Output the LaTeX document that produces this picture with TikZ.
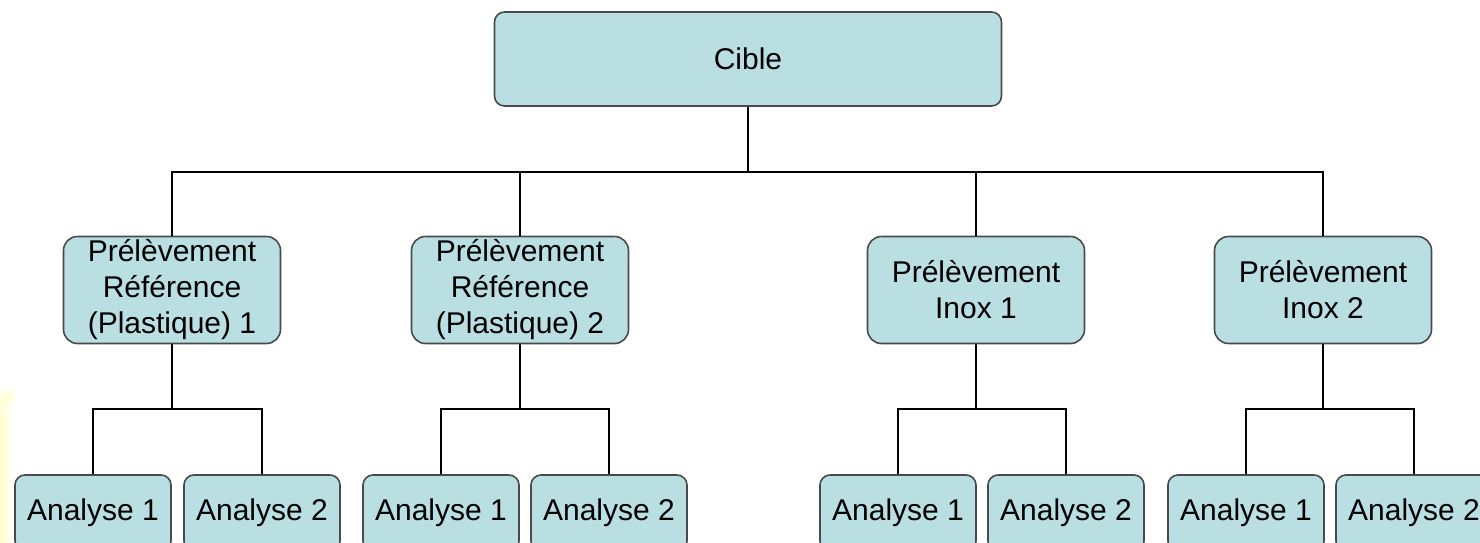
\documentclass[tikz,border=0pt]{standalone}
\usepackage{fontspec}
\setmainfont{Liberation Sans}
\usepackage{xcolor}
\usepackage{tikz}

\definecolor{boxfill}{HTML}{BADFE3}
\definecolor{boxline}{HTML}{4A4A4A}

\begin{document}
\begin{tikzpicture}[
        x=0.5pt, y=-0.5pt,
        font=\fontsize{15pt}{18pt}\selectfont,
        box/.style={draw=boxline, fill=boxfill, line width=0.8pt, align=center, inner sep=0pt},
        topbox/.style={box, rounded corners=5pt, minimum width=253.5pt, minimum height=47pt},
        sample/.style={box, rounded corners=7pt, minimum width=108.5pt, minimum height=53.5pt},
        analysis/.style={box, rounded corners=5pt, minimum width=78pt, minimum height=38pt},
        link/.style={line width=1.25pt, black},
    ]
        \useasboundingbox (0,0) rectangle (1480,542);
        \clip (0,0) rectangle (1480,542);

        % faint yellow glow on the left edge
        \fill[left color=yellow!18, right color=white] (0,400) rectangle (14,542);
        \fill[top color=white, bottom color=yellow!18] (0,385) rectangle (14,400);

        % Define nodes
        \node[topbox] (cible) at (748,59) {Cible};

        \node[sample] (p1) at (172,290) {Prélèvement\\Référence\\(Plastique) 1};
        \node[sample] (p2) at (520,290) {Prélèvement\\Référence\\(Plastique) 2};
        \node[sample] (p3) at (976,290) {Prélèvement\\Inox 1};
        \node[sample] (p4) at (1323,290) {Prélèvement\\Inox 2};

        \node[analysis] (a11) at (93,513) {Analyse 1};
        \node[analysis] (a12) at (262,513) {Analyse 2};
        \node[analysis] (a21) at (441,513) {Analyse 1};
        \node[analysis] (a22) at (609,513) {Analyse 2};
        \node[analysis] (a31) at (898,513) {Analyse 1};
        \node[analysis] (a32) at (1066,513) {Analyse 2};
        \node[analysis] (a41) at (1246,513) {Analyse 1};
        \node[analysis] (a42) at (1414,513) {Analyse 2};

        % junction points
        \coordinate (bus) at (748,172);
        \coordinate (b1) at (172,409);
        \coordinate (b2) at (520,409);
        \coordinate (b3) at (976,409);
        \coordinate (b4) at (1323,409);

        % Define connectors
        \draw[link] (cible.south) -- (bus);
        \draw[link] (p1.north) |- (bus) -| (p4.north);
        \draw[link] (p2.north) -- (p2.north |- bus);
        \draw[link] (p3.north) -- (p3.north |- bus);

        \draw[link] (p1.south) -- (b1);
        \draw[link] (a11.north) |- (b1) -| (a12.north);
        \draw[link] (p2.south) -- (b2);
        \draw[link] (a21.north) |- (b2) -| (a22.north);
        \draw[link] (p3.south) -- (b3);
        \draw[link] (a31.north) |- (b3) -| (a32.north);
        \draw[link] (p4.south) -- (b4);
        \draw[link] (a41.north) |- (b4) -| (a42.north);
    \end{tikzpicture}
\end{document}
